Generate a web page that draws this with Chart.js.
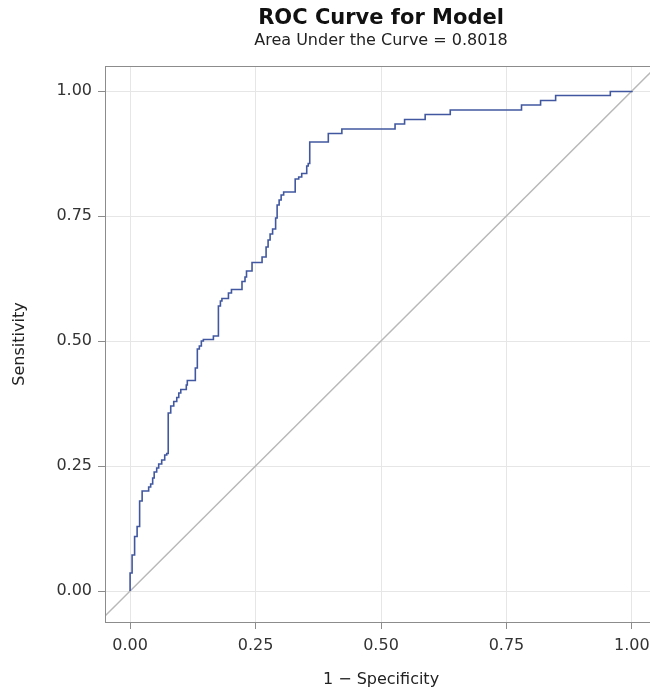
<!DOCTYPE html>
<html>
<head>
<meta charset="utf-8">
<title>ROC Curve for Model</title>
<script src="https://cdn.jsdelivr.net/npm/chart.js@4/dist/chart.umd.min.js"></script>
<style>
  html, body { margin: 0; padding: 0; background: #fff; overflow: hidden; }
  #wrap { width: 660px; height: 690px; }
</style>
</head>
<body>
<div id="wrap"><canvas id="roc" width="660" height="690"></canvas></div>
<script>
// ================= DATA =================
// ROC step points: top of each vertical run (1 - specificity, sensitivity)
const fpr = [0, 0, 0.004, 0.009, 0.014, 0.019, 0.024, 0.037, 0.041, 0.045,
  0.048, 0.053, 0.057, 0.063, 0.069, 0.073, 0.076, 0.081, 0.087, 0.093,
  0.097, 0.101, 0.112, 0.114, 0.130, 0.134, 0.138, 0.142, 0.146, 0.166,
  0.176, 0.180, 0.183, 0.196, 0.202, 0.223, 0.229, 0.232, 0.243, 0.263,
  0.271, 0.275, 0.279, 0.284, 0.290, 0.293, 0.297, 0.301, 0.306, 0.329,
  0.336, 0.342, 0.352, 0.355, 0.358, 0.395, 0.422, 0.528, 0.547, 0.588,
  0.638, 0.780, 0.818, 0.848, 0.957, 1.000];
const tpr = [0, 0.036, 0.072, 0.109, 0.129, 0.180, 0.200, 0.208, 0.214, 0.226,
  0.238, 0.246, 0.254, 0.262, 0.272, 0.275, 0.356, 0.370, 0.379, 0.387,
  0.396, 0.403, 0.412, 0.421, 0.446, 0.484, 0.490, 0.500, 0.503, 0.510,
  0.570, 0.580, 0.585, 0.596, 0.603, 0.619, 0.628, 0.640, 0.657, 0.668,
  0.688, 0.702, 0.714, 0.724, 0.746, 0.772, 0.782, 0.792, 0.798, 0.824,
  0.828, 0.835, 0.850, 0.855, 0.898, 0.915, 0.924, 0.934, 0.943, 0.953,
  0.962, 0.972, 0.981, 0.991, 0.999, 1.000];

// chance line (clipped to the plot frame)
const diagonal = [-0.1, 1.1];

const tickValues = [0, 0.25, 0.5, 0.75, 1];
const chartTitle = "ROC Curve for Model";
const aucText = "Area Under the Curve = 0.8018";
const xTitle = "1 \u2212 Specificity";
const yTitle = "Sensitivity";

// ================= HELPERS =================
const FONT = "'DejaVu Sans', 'Liberation Sans', sans-serif";
const FRAME = "#8c8c8c";
const GRID = "#e6e6e6";

// frame around the plot area (top/right edges too)
const framePlugin = {
  id: "frame",
  afterDatasetsDraw(chart) {
    const { ctx, chartArea: a } = chart;
    ctx.save();
    ctx.strokeStyle = FRAME;
    ctx.lineWidth = 1;
    ctx.strokeRect(Math.round(a.left) + 0.5, Math.round(a.top) + 0.5,
      Math.round(a.right - a.left), Math.round(a.bottom - a.top));
    ctx.restore();
  }
};

function fixedTicks(scale) {
  scale.ticks = tickValues.map(v => ({ value: v }));
}

// ================= CHART =================
document.addEventListener("DOMContentLoaded", () => {
  const rocPoints = fpr.map((x, i) => ({ x: x, y: tpr[i] }));
  const diagPoints = diagonal.map(v => ({ x: v, y: v }));

  new Chart(document.getElementById("roc"), {
    type: "line",
    data: {
      datasets: [
        {
          label: "ROC",
          data: rocPoints,
          borderColor: "#4158a0",
          borderWidth: 1.6,
          pointRadius: 0,
          stepped: "before",
          fill: false,
          order: 0
        },
        {
          label: "Chance",
          data: diagPoints,
          borderColor: "#b8b8b8",
          borderWidth: 1.5,
          pointRadius: 0,
          fill: false,
          clip: 0,
          order: 1
        }
      ]
    },
    options: {
      responsive: false,
      animation: false,
      layout: { padding: { top: 0, left: 0, right: 3, bottom: 0 } },
      plugins: {
        legend: { display: false },
        tooltip: { enabled: false },
        title: {
          display: true,
          text: chartTitle,
          fullSize: false,
          color: "#111",
          font: { family: FONT, size: 21, weight: "bold" },
          padding: { top: 6, bottom: 0 }
        },
        subtitle: {
          display: true,
          text: aucText,
          fullSize: false,
          color: "#222",
          font: { family: FONT, size: 16 },
          padding: { top: 0, bottom: 15.6 }
        }
      },
      scales: {
        x: {
          type: "linear",
          min: -0.05,
          max: 1.05,
          afterBuildTicks: fixedTicks,
          afterFit: s => { s.height = 68; },
          border: { display: false },
          grid: { color: GRID, tickColor: FRAME, tickLength: 7 },
          ticks: {
            color: "#333",
            padding: 7,
            maxRotation: 0,
            font: { family: FONT, size: 16 },
            callback: v => v.toFixed(2)
          },
          title: {
            display: true,
            text: xTitle,
            color: "#222",
            font: { family: FONT, size: 16 },
            padding: { top: 0, bottom: 1 }
          }
        },
        y: {
          type: "linear",
          min: -0.062,
          max: 1.05,
          afterBuildTicks: fixedTicks,
          afterFit: s => { s.width = 105; },
          border: { display: false },
          grid: { color: GRID, tickColor: FRAME, tickLength: 7 },
          ticks: {
            color: "#333",
            padding: 6,
            font: { family: FONT, size: 16 },
            callback: v => v.toFixed(2)
          },
          title: {
            display: true,
            text: yTitle,
            color: "#222",
            font: { family: FONT, size: 16 },
            padding: { top: 10, bottom: 0 }
          }
        }
      }
    },
    plugins: [framePlugin]
  });
});
</script>
</body>
</html>
